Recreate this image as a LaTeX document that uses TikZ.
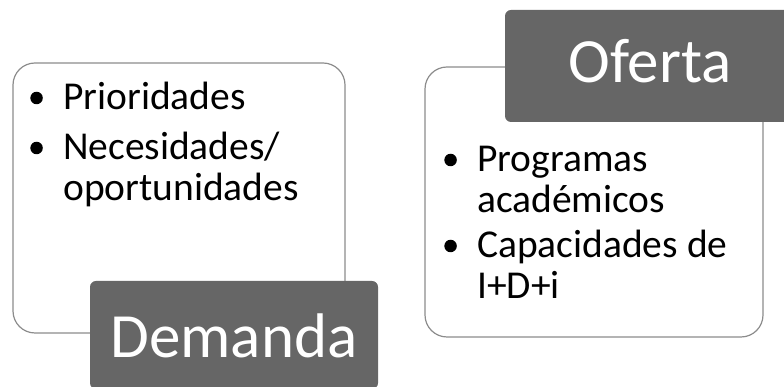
\documentclass[tikz,border=0pt]{standalone}
\usepackage{fontspec}
\setmainfont{Carlito}
\usetikzlibrary{positioning}

\tikzset{
  panel/.style={draw=black!45, line width=1.2pt, rounded corners=22pt, fill=white},
  tag/.style={fill=black!60, rounded corners=6pt, inner sep=0pt},
  tagtext/.style={anchor=base, text=white, inner sep=0pt,
    font=\fontsize{63}{63}\selectfont},
  entry/.style={anchor=base west, inner sep=0pt, text width=10cm, align=flush left,
    font=\fontsize{39.5}{40.5}\selectfont},
  dot/.style={circle, fill=black, inner sep=0pt, minimum size=12.5pt,
    left=20pt of #1.base west, yshift=12pt},
}

\begin{document}
\begin{tikzpicture}[x=1pt, y=1pt]
  \useasboundingbox (0,0) rectangle (784,387);

  % Demanda
  \node[panel, minimum width=332pt, minimum height=270pt] (dbox) at (179,189) {};
  \node[tag, minimum width=288pt, minimum height=108pt] (dtag) at (234,52) {};
  \node[tagtext] (dname) at (234,29) {Demanda};
  \node[entry] (d1) at (63,277) {Prioridades};
  \node[entry] (d2) at (63,227) {Necesidades/\\oportunidades};
  \node[dot=d1] (b1) {};
  \node[dot=d2] (b2) {};

  % Oferta
  \node[panel, minimum width=338pt, minimum height=270pt] (obox) at (594,185) {};
  \node[tag, minimum width=290pt, minimum height=112pt] (otag) at (650,321) {};
  \node[tagtext] (oname) at (650,304) {Oferta};
  \node[entry] (o1) at (477,215) {Programas\\académicos};
  \node[entry] (o2) at (477,129) {\mbox{Capacidades de}\\I+D+i};
  \node[dot=o1] (b3) {};
  \node[dot=o2] (b4) {};
\end{tikzpicture}
\end{document}
